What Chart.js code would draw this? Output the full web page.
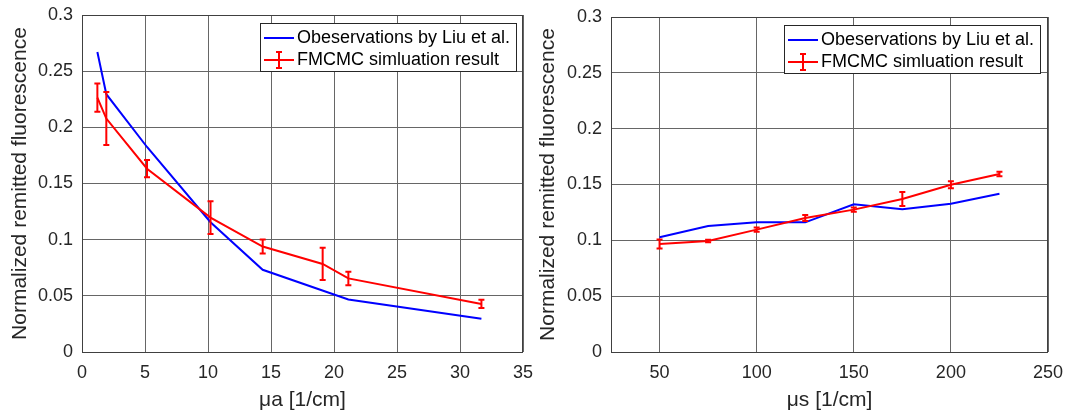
<!DOCTYPE html>
<html>
<head>
<meta charset="utf-8">
<script src="https://cdn.jsdelivr.net/npm/chart.js@4.4.1/dist/chart.umd.min.js"></script>
<style>
  html, body { margin: 0; padding: 0; background: #fff; }
  #wrap { position: relative; width: 1067px; height: 414px; overflow: hidden; }
  .pane { position: absolute; top: 0; height: 414px; }
  #paneA { left: 0; width: 533px; }
  #paneB { left: 533px; width: 534px; }
</style>
</head>
<body>
<div id="wrap">
  <div class="pane" id="paneA"><canvas id="chartA" width="533" height="414"></canvas></div>
  <div class="pane" id="paneB"><canvas id="chartB" width="534" height="414"></canvas></div>
</div>
<script>
// Absorption sweep (μa)
const muA    = [1.22, 1.93, 5.16, 10.2, 14.34, 21.14, 31.7];
const obsA   = [0.267, 0.2295, 0.1825, 0.1155, 0.0732, 0.0468, 0.0296];
const muASim = [1.22, 1.93, 5.16, 10.2, 14.34, 19.1, 21.14, 31.7];
const simA   = [0.2264, 0.2078, 0.1632, 0.1196, 0.0939, 0.0784, 0.0655, 0.0428];
const errA   = [0.0126, 0.0236, 0.0077, 0.0145, 0.0062, 0.0144, 0.0060, 0.0037];

// Scattering sweep (μs)
const muS  = [50, 75, 100, 125, 150, 175, 200, 225];
const obsS = [0.1027, 0.1128, 0.1161, 0.1161, 0.1322, 0.1278, 0.1328, 0.1418];
const simS = [0.0967, 0.0994, 0.1096, 0.1200, 0.1275, 0.1370, 0.1497, 0.1594];
const errS = [0.0040, 0.0012, 0.0020, 0.0027, 0.0018, 0.0063, 0.0031, 0.0020];

// Axis ticks
const yTicks  = [0, 0.05, 0.1, 0.15, 0.2, 0.25, 0.3];
const xTicksA = [0, 5, 10, 15, 20, 25, 30, 35];
const xTicksS = [50, 100, 150, 200, 250];

const labelObs = 'Obeservations by Liu et al.';
const labelSim = 'FMCMC simluation result';
const yTitle = 'Normalized remitted fluorescence';

const FONT = '"Liberation Sans", Arial, Helvetica, sans-serif';
const INK = '#262626';
const GRID = '#666666';
const BLUE = '#0000ff';
const RED = '#ff0000';

Chart.defaults.font.family = FONT;
Chart.defaults.color = INK;

const pairs = (xs, ys) => xs.map((x, i) => ({ x, y: ys[i] }));

// Vertical error bars with end caps on the simulation series
const errorBars = {
  id: 'errorBars',
  afterDatasetsDraw(chart, args, opts) {
    const meta = chart.getDatasetMeta(opts.index);
    const ys = chart.scales.y;
    const vals = chart.data.datasets[opts.index].data;
    const ctx = chart.ctx;
    ctx.save();
    ctx.strokeStyle = RED;
    ctx.lineWidth = 2;
    meta.data.forEach((pt, i) => {
      const v = vals[i].y, e = opts.err[i];
      const y1 = ys.getPixelForValue(v + e), y2 = ys.getPixelForValue(v - e);
      const x = pt.x, c = 3;
      ctx.beginPath();
      ctx.moveTo(x, y1); ctx.lineTo(x, y2);
      ctx.moveTo(x - c, y1); ctx.lineTo(x + c, y1);
      ctx.moveTo(x - c, y2); ctx.lineTo(x + c, y2);
      ctx.stroke();
    });
    ctx.restore();
  }
};

// Axes box and boxed legend in the upper right corner
const frameLegend = {
  id: 'frameLegend',
  afterDraw(chart, args, opts) {
    const { ctx, chartArea: a } = chart;
    ctx.save();
    ctx.strokeStyle = '#404040';
    ctx.lineWidth = 1;
    ctx.strokeRect(Math.round(a.left) + 0.5, Math.round(a.top) + 0.5,
                   Math.round(a.right - a.left) - 1, Math.round(a.bottom - a.top));

    ctx.font = '18px ' + FONT;
    const ds = chart.data.datasets;
    const tw = Math.max(...ds.map(d => ctx.measureText(d.label).width));
    const w = Math.round(37 + tw + 6), h = 48;
    const x = Math.round(a.right - opts.right - w), y = Math.round(a.top + opts.top);
    ctx.fillStyle = '#fff';
    ctx.fillRect(x, y, w, h);
    ctx.strokeStyle = INK;
    ctx.strokeRect(x + 0.5, y + 0.5, w, h);

    const rows = [y + 15, y + 37];
    ds.forEach((d, i) => {
      const ry = rows[i];
      ctx.strokeStyle = d.borderColor;
      ctx.lineWidth = 2;
      ctx.beginPath();
      ctx.moveTo(x + 4, ry); ctx.lineTo(x + 34, ry);
      if (d.hasErr) {
        const cx = x + 19;
        ctx.moveTo(cx, ry - 8); ctx.lineTo(cx, ry + 8);
        ctx.moveTo(cx - 3, ry - 8); ctx.lineTo(cx + 3, ry - 8);
        ctx.moveTo(cx - 3, ry + 8); ctx.lineTo(cx + 3, ry + 8);
      }
      ctx.stroke();
      ctx.fillStyle = '#000';
      ctx.textBaseline = 'middle';
      ctx.textAlign = 'left';
      ctx.fillText(d.label, x + 37, ry);
    });
    ctx.restore();
  }
};

function fmt(v) { return String(+Number(v).toFixed(2)); }

function makeChart(id, cfg) {
  return new Chart(document.getElementById(id), {
    type: 'line',
    data: {
      datasets: [
        { label: labelObs, data: pairs(cfg.xo, cfg.yo), borderColor: BLUE, backgroundColor: BLUE,
          borderWidth: 2, pointRadius: 0, tension: 0, order: 1 },
        { label: labelSim, data: pairs(cfg.xs, cfg.ys), borderColor: RED, backgroundColor: RED,
          borderWidth: 2, pointRadius: 0, tension: 0, order: 0, hasErr: true }
      ]
    },
    options: {
      responsive: false,
      animation: false,
      events: [],
      layout: { padding: { left: 0, top: cfg.top, right: cfg.right, bottom: 0 } },
      plugins: {
        legend: { display: false },
        tooltip: { enabled: false },
        errorBars: { index: 1, err: cfg.err },
        frameLegend: { top: cfg.legTop, right: cfg.legRight }
      },
      scales: {
        x: {
          type: 'linear',
          min: cfg.xmin, max: cfg.xmax,
          afterBuildTicks: s => { s.ticks = cfg.xticks.map(v => ({ value: v })); },
          afterFit: s => { s.height = 62; s.paddingLeft = 0; s.paddingRight = 0; },
          grid: { color: GRID, lineWidth: 1, drawTicks: false },
          border: { display: false },
          ticks: { font: { size: 18 }, color: INK, padding: 10, maxRotation: 0, callback: v => fmt(v) },
          title: { display: true, text: cfg.xTitle, font: { size: 21 }, color: INK, padding: { top: 0, bottom: 1 } }
        },
        y: {
          type: 'linear',
          min: 0, max: 0.3,
          afterBuildTicks: s => { s.ticks = yTicks.map(v => ({ value: v })); },
          afterFit: s => { s.width = cfg.yWidth; s.paddingTop = 0; s.paddingBottom = 0; },
          grid: { color: GRID, lineWidth: 1, drawTicks: false },
          border: { display: false },
          ticks: { font: { size: 18 }, color: INK, padding: 9, callback: v => fmt(v) },
          title: { display: true, text: yTitle, font: { size: 21 }, color: INK, padding: { top: cfg.yTitlePad, bottom: 0 } }
        }
      }
    },
    plugins: [errorBars, frameLegend]
  });
}

makeChart('chartA', {
  xo: muA, yo: obsA, xs: muASim, ys: simA, err: errA,
  xmin: 0, xmax: 35, xticks: xTicksA, xTitle: 'μa [1/cm]',
  top: 15, right: 10, yWidth: 82, yTitlePad: 8, legTop: 8, legRight: 7
});

makeChart('chartB', {
  xo: muS, yo: obsS, xs: muS, ys: simS, err: errS,
  xmin: 25, xmax: 250, xticks: xTicksS, xTitle: 'μs [1/cm]',
  top: 17, right: 19, yWidth: 78, yTitlePad: 3, legTop: 8, legRight: 8
});
</script>
</body>
</html>
